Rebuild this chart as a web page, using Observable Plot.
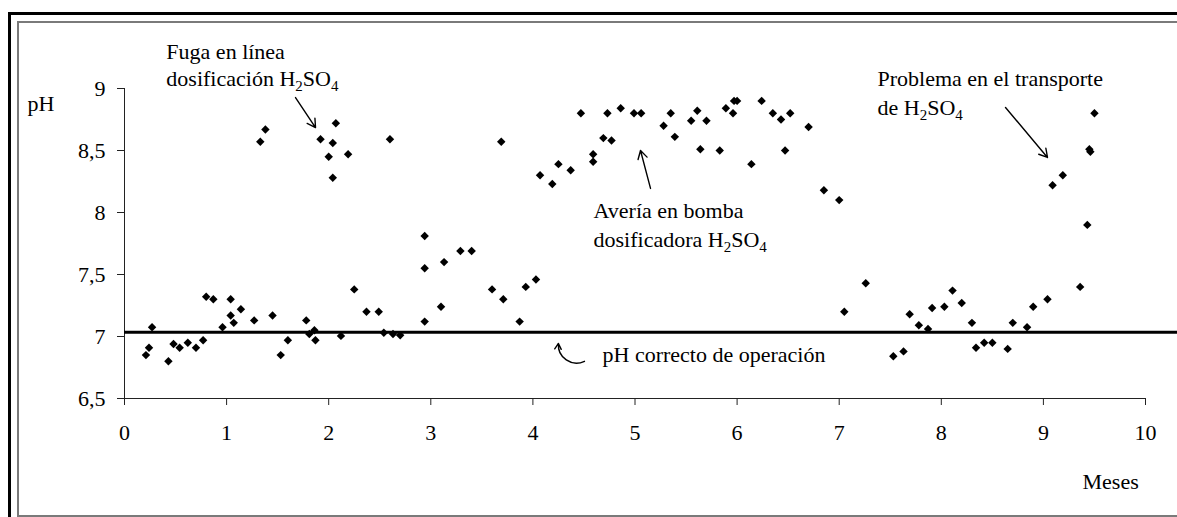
<!DOCTYPE html>
<html><head><meta charset="utf-8">
<script src="https://cdn.jsdelivr.net/npm/d3@7"></script>
<script src="https://cdn.jsdelivr.net/npm/@observablehq/plot@0.6"></script>
<style>
html,body{margin:0;padding:0;background:#fff;}
#wrap{position:relative;width:1177px;height:517px;overflow:hidden;}
.fo{position:absolute;left:8px;top:12px;right:-20px;bottom:-20px;border-left:3px solid #000;border-top:3px solid #000;pointer-events:none;}
.fi{position:absolute;left:17px;top:21px;right:-20px;bottom:0px;border:2px solid #7a7a7a;border-right:none;pointer-events:none;}
#chart svg{display:block;}
#chart svg, #chart svg text, #chart svg tspan{font-family:"Liberation Serif","Times New Roman",serif !important;}
</style></head>
<body>
<div id="wrap"><div id="chart"></div><div class="fo"></div><div class="fi"></div></div>
<script>
// pH measurements (month, pH)
const months = [0.21,0.24,0.27,0.43,0.48,0.54,0.62,0.70,0.77,0.80,0.87,0.96,1.04,1.04,1.07,1.14,1.27,1.33,1.38,1.45,
1.53,1.60,1.78,1.81,1.86,1.87,1.92,2.00,2.04,2.04,2.07,2.12,2.19,2.25,2.37,2.49,2.54,2.63,2.70,2.60,
2.94,2.94,2.94,3.10,3.13,3.29,3.40,3.60,3.71,3.69,3.87,3.93,4.03,4.07,4.19,4.25,4.37,4.47,4.59,4.59,
4.73,4.86,4.69,4.77,4.99,5.06,5.28,5.35,5.39,5.55,5.61,5.70,5.64,5.83,5.89,5.97,6.00,5.96,6.14,6.24,
6.35,6.43,6.52,6.47,6.70,6.85,7.00,7.05,7.26,7.53,7.63,7.69,7.78,7.87,7.91,8.03,8.11,8.20,8.30,8.34,
8.42,8.50,8.65,8.70,8.84,8.90,9.04,9.36,9.43,9.09,9.19,9.45,9.46,9.50];
const phValues = [6.85,6.91,7.075,6.80,6.94,6.91,6.95,6.91,6.97,7.32,7.30,7.075,7.30,7.17,7.11,7.22,7.13,8.57,8.67,7.17,
6.85,6.97,7.13,7.02,7.05,6.97,8.59,8.45,8.56,8.28,8.72,7.005,8.47,7.38,7.20,7.20,7.03,7.02,7.01,8.59,
7.81,7.55,7.12,7.24,7.60,7.69,7.69,7.38,7.30,8.57,7.12,7.40,7.46,8.30,8.23,8.39,8.34,8.80,8.47,8.41,
8.80,8.84,8.60,8.58,8.80,8.80,8.70,8.80,8.61,8.74,8.82,8.74,8.51,8.50,8.84,8.90,8.90,8.80,8.39,8.90,
8.80,8.75,8.80,8.50,8.69,8.18,8.10,7.20,7.43,6.84,6.88,7.18,7.09,7.06,7.23,7.24,7.37,7.27,7.11,6.91,
6.95,6.95,6.90,7.11,7.075,7.24,7.30,7.40,7.90,8.22,8.30,8.51,8.49,8.80];
const correctPH = 7.035;
const xTicks = [0,1,2,3,4,5,6,7,8,9,10];
const yTicks = [6.5,7,7.5,8,8.5,9];
// annotation texts and anchors (data coordinates)
const labelText = ["pH","Fuga en línea","dosificación H2SO4","Avería en bomba","dosificadora H2SO4","pH correcto de operación","Problema en el transporte","de H2SO4","Meses"];
const labelX = [-0.95,0.41,0.41,4.594,4.594,4.682,7.375,7.375,9.383];
const labelY = [8.875,9.298,9.077,8.012,7.782,6.855,9.077,8.843,5.827];
const arrowX1 = [1.675,5.152,8.629];
const arrowY1 = [8.927,8.194,8.847];
const arrowX2 = [1.871,5.054,9.04];
const arrowY2 = [8.685,8.50,8.444];
const curvedArrow = {x1:4.505,y1:6.80,x2:4.25,y2:6.944};

const data = months.map((m,i)=>({m, ph: phValues[i]}));
const labels = labelText.map((t,i)=>({t, x: labelX[i], y: labelY[i]}));
const arrows = arrowX1.map((x1,i)=>({x1, y1: arrowY1[i], x2: arrowX2[i], y2: arrowY2[i]}));

const chart = Plot.plot({
  width: 1177, height: 517,
  marginLeft: 124, marginRight: 32, marginTop: 88, marginBottom: 119,
  style: {fontFamily: "Liberation Serif, serif", fontSize: "22px", color: "#000", background: "transparent", overflow: "visible"},
  x: {domain: [0,10]},
  y: {domain: [6.5,9]},
  marks: [
    Plot.ruleX([0], {stroke: "#222", strokeWidth: 1}),
    Plot.ruleY([6.5], {stroke: "#222", strokeWidth: 1}),
    Plot.axisX({ticks: xTicks, tickSize: 7, tickPadding: 19, tickFormat: d => String(d), label: null, stroke: "#222", fill: "#000"}),
    Plot.axisY({ticks: yTicks, tickSize: 7, tickPadding: 12, tickFormat: d => String(d).replace(".", ","), label: null, stroke: "#222", fill: "#000"}),
    Plot.ruleY([correctPH], {x1: 0, x2: 10.35, stroke: "#000", strokeWidth: 3}),
    Plot.dot(data, {x: "m", y: "ph", symbol: "diamond2", r: 3.8, fill: "#000", stroke: null}),
    Plot.arrow(arrows, {x1: "x1", y1: "y1", x2: "x2", y2: "y2", stroke: "#000", strokeWidth: 1.4, headLength: 10}),
    Plot.arrow([curvedArrow], {x1: "x1", y1: "y1", x2: "x2", y2: "y2", bend: 60, stroke: "#000", strokeWidth: 1.4, headLength: 7}),
    Plot.text(labels, {x: "x", y: "y", text: "t", textAnchor: "start", lineAnchor: "middle", fontSize: 22, fill: "#000", className: "ann"})
  ]
});
document.getElementById("chart").appendChild(chart);

// subscripts for H2SO4
d3.select(chart).selectAll("g.ann text").each(function(){
  const s = this.textContent;
  const k = s.indexOf("H2SO4");
  if (k < 0) return;
  const el = d3.select(this);
  el.text(null);
  el.append("tspan").text(s.slice(0,k) + "H");
  el.append("tspan").attr("dy", 5).attr("font-size", 15).text("2");
  el.append("tspan").attr("dy", -5).text("SO");
  el.append("tspan").attr("dy", 5).attr("font-size", 15).text("4");
});
</script>
</body></html>
